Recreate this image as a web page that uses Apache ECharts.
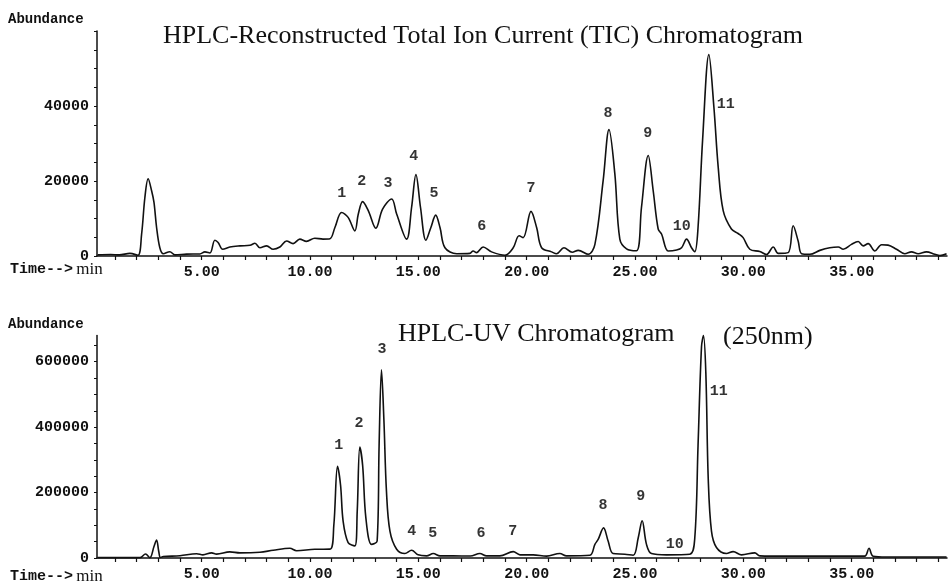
<!DOCTYPE html>
<html>
<head>
<meta charset="utf-8">
<script src="https://cdn.jsdelivr.net/npm/echarts@6.0.0/dist/echarts.min.js"></script>
<style>
  html, body { margin: 0; padding: 0; background: #fff; }
  #chart { width: 948px; height: 582px; }
</style>
</head>
<body>
<div id="chart"></div>
<script>
// TIC chromatogram (top), time in min / abundance
const ticTime = [0.2, 0.8, 1.2, 1.69, 2.06, 2.23, 2.38, 2.53, 2.69, 2.8, 2.92, 3.07, 3.23, 3.53, 3.77, 4.3, 4.92, 5.15, 5.38, 5.61, 5.76, 5.97, 6.3, 6.77, 7.23, 7.46, 7.69, 8.0, 8.3, 8.61, 8.92, 9.22, 9.53, 9.84, 10.22, 10.6, 10.92, 11.15, 11.46, 11.76, 12.07, 12.23, 12.43, 12.69, 13.04, 13.35, 13.77, 14.0, 14.46, 14.69, 14.89, 15.1, 15.35, 15.58, 15.8, 16.0, 16.23, 16.77, 17.38, 17.53, 17.69, 17.99, 18.38, 19.0, 19.38, 19.65, 19.84, 20.2, 20.46, 20.69, 21.15, 21.38, 21.72, 22.1, 22.38, 22.84, 23.15, 23.53, 23.8, 24.07, 24.3, 24.61, 25.07, 25.3, 25.61, 25.84, 26.07, 26.23, 26.53, 26.92, 27.15, 27.38, 27.61, 27.76, 27.91, 28.12, 28.41, 28.64, 28.84, 29.07, 29.45, 29.76, 29.99, 30.3, 30.76, 31.07, 31.38, 31.61, 32.07, 32.3, 32.53, 32.69, 33.07, 33.53, 33.99, 34.38, 34.61, 34.99, 35.3, 35.53, 35.76, 36.07, 36.38, 36.68, 37.07, 37.45, 37.76, 38.07, 38.45, 38.84, 39.07, 39.38]
const ticAbundance = [300, 400, 300, 700, 200, 5900, 15600, 20600, 17400, 14300, 7600, 2200, 600, 1150, 300, 500, 550, 1100, 800, 4200, 3600, 1800, 2400, 2700, 2850, 3400, 2200, 2700, 1800, 2400, 4000, 3300, 4500, 3900, 4750, 4500, 4600, 7600, 11600, 10300, 6700, 11200, 14500, 12100, 7400, 12500, 15200, 11200, 4500, 13000, 21700, 13000, 4200, 7600, 10900, 7600, 2200, 600, 700, 1350, 900, 2400, 1100, 200, 2200, 5400, 4900, 11900, 7600, 2200, 1100, 600, 2200, 1000, 1500, 450, 3100, 20100, 33700, 21900, 4500, 1900, 1400, 13000, 26800, 17400, 7200, 5800, 1350, 1600, 2200, 4500, 2200, 1150, 7600, 30900, 53700, 39800, 23700, 12100, 7200, 6000, 4900, 1800, 1200, 400, 2400, 700, 900, 8050, 4000, 600, 450, 1500, 2200, 2400, 1800, 3100, 3850, 2700, 3300, 1350, 3000, 2900, 1800, 600, 1100, 600, 1100, 450, 100, 600]

// UV chromatogram (bottom)
const uvTime = [0.2, 2.15, 2.41, 2.61, 2.8, 2.92, 3.02, 3.1, 3.23, 4.0, 4.77, 5.06, 5.46, 5.69, 6.3, 6.77, 7.69, 8.3, 9.07, 9.38, 10.22, 10.92, 11.1, 11.27, 11.41, 11.53, 11.76, 12.07, 12.18, 12.3, 12.43, 12.58, 12.84, 13.1, 13.19, 13.3, 13.41, 13.53, 13.69, 14.0, 14.38, 14.69, 14.99, 15.38, 15.69, 16.0, 16.61, 17.4, 17.84, 18.15, 18.76, 19.38, 19.69, 20.3, 20.92, 21.53, 21.84, 22.92, 23.15, 23.3, 23.55, 23.76, 23.99, 24.53, 24.92, 25.15, 25.33, 25.53, 25.76, 26.46, 27.53, 27.76, 27.91, 28.07, 28.16, 28.27, 28.38, 28.53, 28.76, 29.22, 29.53, 29.92, 30.53, 30.76, 31.99, 33.53, 35.6, 35.8, 35.99, 36.6, 39.38]
const uvAbundance = [1000, 1000, 12000, 1000, 35000, 55000, 20000, 1500, 4500, 7000, 13000, 9700, 15700, 11800, 18700, 15700, 17700, 23600, 29600, 22000, 26600, 27000, 100000, 280000, 223000, 112000, 47000, 37000, 142600, 339000, 283000, 122000, 41700, 52000, 344000, 575000, 424000, 203000, 82000, 26600, 13600, 23600, 9700, 6600, 13600, 6600, 6600, 6000, 13600, 6600, 6600, 19600, 9700, 9700, 5600, 13600, 6600, 8600, 41700, 56800, 92000, 52000, 13600, 11600, 8600, 62000, 114000, 41700, 13600, 9700, 11600, 62000, 344000, 646000, 680000, 565000, 243000, 82000, 32000, 13600, 19600, 9700, 15700, 6600, 5600, 5600, 5600, 29600, 5600, 3000, 3000]

// peak numbers: where each label sits (time, abundance)
const peakNames = ['1', '2', '3', '4', '5', '6', '7', '8', '9', '10', '11']
const ticLabelTime = [11.47, 12.39, 13.6, 14.79, 15.72, 17.93, 20.2, 23.75, 25.59, 27.16, 29.19]
const ticLabelAbundance = [16800, 20000, 19500, 26700, 16800, 8000, 18100, 38100, 32800, 8000, 40500]
const uvLabelTime = [11.33, 12.26, 13.32, 14.7, 15.67, 17.89, 19.36, 23.52, 25.27, 26.84, 28.87]
const uvLabelAbundance = [346000, 412000, 639000, 83000, 77000, 77000, 83000, 162000, 189000, 41000, 509000]

// axis ticks
const timeLabels = [5, 10, 15, 20, 25, 30, 35]
const timeTicks = []
for (let i = 1; i <= 39; i++) timeTicks.push(i)
const ticYLabels = [0, 20000, 40000]
const uvYLabels = [0, 200000, 400000, 600000]

const mono = 'Liberation Mono'
const serif = 'Liberation Serif'
const ink = '#111'

const zip = (a, b) => a.map((v, i) => [v, b[i]])
const labelData = (ts, vs) => ts.map((t, i) => [t, vs[i], peakNames[i]])

function xAxisFor(gridIndex) {
  return {
    type: 'value',
    gridIndex,
    min: 0.17,
    max: 39.4,
    axisLine: { show: true, onZero: false, lineStyle: { color: ink, width: 1.5 } },
    axisTick: { show: true, customValues: timeTicks, length: 4, lineStyle: { color: ink, width: 1.2 } },
    axisLabel: {
      customValues: timeLabels,
      formatter: v => v.toFixed(2),
      color: ink,
      fontFamily: mono,
      fontWeight: 'bold',
      fontSize: 15,
      margin: 9
    },
    splitLine: { show: false }
  }
}

function yAxisFor(gridIndex, max, labels, step) {
  const ticks = []
  for (let v = 0; v <= max; v += step) ticks.push(v)
  return {
    type: 'value',
    gridIndex,
    min: 0,
    max,
    axisLine: { show: true, lineStyle: { color: ink, width: 1.5 } },
    axisTick: { show: true, customValues: ticks, length: 3, lineStyle: { color: ink, width: 1 } },
    axisLabel: {
      customValues: labels,
      formatter: v => String(v),
      color: ink,
      fontFamily: mono,
      fontWeight: 'bold',
      fontSize: 15,
      margin: 8
    },
    splitLine: { show: false }
  }
}

function peakLabels(name, xi, data) {
  return {
    name,
    type: 'scatter',
    xAxisIndex: xi,
    yAxisIndex: xi,
    symbolSize: 0,
    silent: true,
    data,
    label: {
      show: true,
      position: 'inside',
      formatter: p => p.data[2],
      color: '#000',
      fontFamily: mono,
      fontWeight: 'bold',
      fontSize: 15
    }
  }
}

const timeText = {
  text: '{a|Time-->} {b|min}',
  rich: {
    a: { fontFamily: mono, fontWeight: 'bold', fontSize: 15, fill: ink },
    b: { fontFamily: serif, fontSize: 17, fill: ink }
  }
}

const chart = echarts.init(document.getElementById('chart'))
chart.setOption({
  backgroundColor: '#fff',
  animation: false,
  title: [
    { text: 'HPLC-Reconstructed Total Ion Current (TIC) Chromatogram', left: 158, top: 18,
      textStyle: { fontFamily: serif, fontWeight: 'normal', fontSize: 26, color: ink } },
    { text: 'HPLC-UV Chromatogram', left: 393, top: 316,
      textStyle: { fontFamily: serif, fontWeight: 'normal', fontSize: 26, color: ink } },
    { text: '(250nm)', left: 718, top: 319,
      textStyle: { fontFamily: serif, fontWeight: 'normal', fontSize: 26, color: ink } }
  ],
  graphic: [
    { type: 'text', left: 8, top: 12, style: { text: 'Abundance', font: 'bold 14px "Liberation Mono"', fill: ink } },
    { type: 'text', left: 8, top: 317, style: { text: 'Abundance', font: 'bold 14px "Liberation Mono"', fill: ink } },
    { type: 'text', left: 10, top: 261, style: timeText },
    { type: 'text', left: 10, top: 568, style: timeText }
  ],
  grid: [
    { left: 97, width: 850, top: 31, height: 225 },
    { left: 97, width: 850, top: 335.5, height: 225 }
  ],
  xAxis: [xAxisFor(0), xAxisFor(1)],
  yAxis: [
    yAxisFor(0, 60000, ticYLabels, 5000),
    yAxisFor(1, 680000, uvYLabels, 50000)
  ],
  series: [
    {
      name: 'TIC',
      type: 'line',
      xAxisIndex: 0,
      yAxisIndex: 0,
      smooth: 0.35,
      showSymbol: false,
      clip: false,
      lineStyle: { color: ink, width: 1.6 },
      data: zip(ticTime, ticAbundance)
    },
    {
      name: 'UV',
      type: 'line',
      xAxisIndex: 1,
      yAxisIndex: 1,
      smooth: 0.35,
      showSymbol: false,
      clip: false,
      lineStyle: { color: ink, width: 1.6 },
      data: zip(uvTime, uvAbundance)
    },
    peakLabels('TIC peaks', 0, labelData(ticLabelTime, ticLabelAbundance)),
    peakLabels('UV peaks', 1, labelData(uvLabelTime, uvLabelAbundance))
  ]
})
</script>
</body>
</html>
